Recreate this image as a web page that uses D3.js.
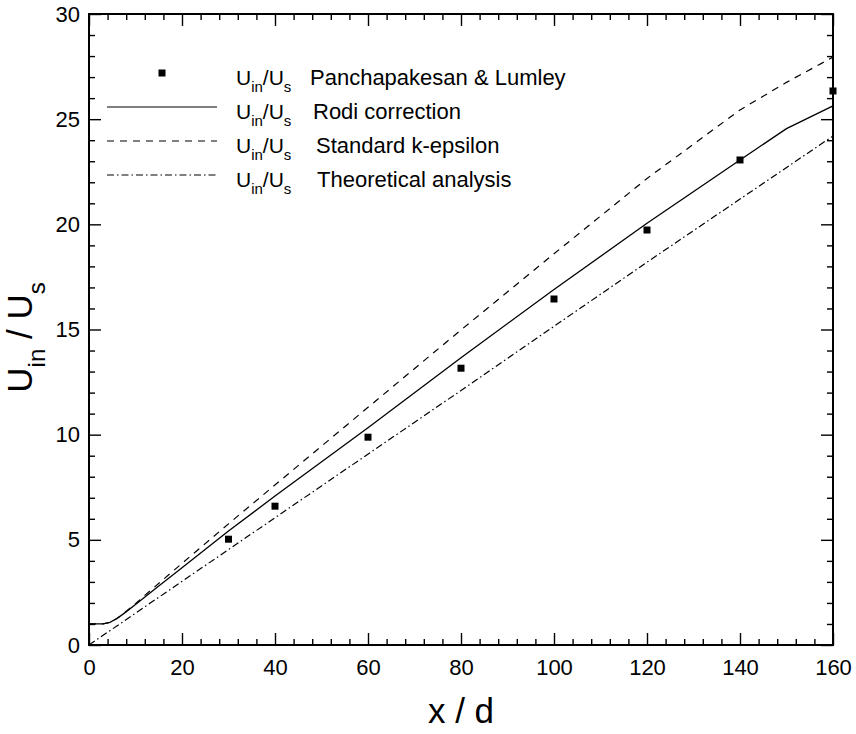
<!DOCTYPE html>
<html>
<head>
<meta charset="utf-8">
<script src="https://cdn.jsdelivr.net/npm/d3@7/dist/d3.min.js"></script>
<style>
  html, body { margin: 0; padding: 0; background: #fff; }
  svg { display: block; font-family: "Liberation Sans", Arial, Helvetica, sans-serif; }
</style>
</head>
<body>
<svg id="chart" width="856" height="734"></svg>
<script>
// ---- data ----
const xMajorTicks = [0, 20, 40, 60, 80, 100, 120, 140, 160];
const yMajorTicks = [0, 5, 10, 15, 20, 25, 30];

const expX = [30, 40, 60, 80, 100, 120, 140, 160];
const expY = [5.03, 6.6, 9.88, 13.16, 16.45, 19.73, 23.06, 26.34];

const rodiX = [0, 3, 4.5, 6, 7.4, 10, 15, 20, 30, 40, 60, 80, 100, 120, 140, 150, 160];
const rodiY = [1.0, 1.0, 1.08, 1.26, 1.48, 1.93, 2.8, 3.67, 5.42, 7.08, 10.33, 13.66, 16.9, 20.05, 23.06, 24.55, 25.63];

const kepsX = [0, 3, 4.5, 6, 7.4, 10, 12, 20, 30, 41.3, 60, 80, 100, 120, 140, 150, 160];
const kepsY = [1.0, 1.0, 1.08, 1.26, 1.49, 1.96, 2.36, 3.88, 5.76, 7.85, 11.3, 14.98, 18.6, 22.18, 25.44, 26.75, 27.95];

const theoX = [0, 40, 80, 120, 160];
const theoY = [0, 6.05, 12.1, 18.2, 24.2];

const legendLabels = ["Panchapakesan & Lumley", "Rodi correction", "Standard k-epsilon", "Theoretical analysis"];

// ---- layout ----
const svg = d3.select("#chart");
const x = d3.scaleLinear().domain([0, 160]).range([89, 833]);
const y = d3.scaleLinear().domain([0, 30]).range([645, 14]);

const xMinor = d3.range(0, 161, 4).filter(v => v % 20 !== 0);
const yMinor = d3.range(0, 31, 1).filter(v => v % 5 !== 0);

function styleAxis(g) {
  g.select(".domain").remove();
  g.selectAll(".tick line").attr("stroke", "#000").attr("stroke-width", 1.4);
  g.selectAll(".tick text").attr("fill", "#000").attr("font-size", 22)
    .attr("font-family", '"Liberation Sans", Arial, sans-serif');
}

// bottom
svg.append("g").attr("transform", `translate(0,${y(0)})`)
  .call(d3.axisBottom(x).tickValues(xMajorTicks).tickSizeInner(-12).tickSizeOuter(0).tickPadding(14).tickFormat(d3.format("d")))
  .call(styleAxis);
svg.append("g").attr("transform", `translate(0,${y(0)})`)
  .call(d3.axisBottom(x).tickValues(xMinor).tickSizeInner(-6).tickSizeOuter(0).tickFormat(""))
  .call(styleAxis);
// top
svg.append("g").attr("transform", `translate(0,${y(30)})`)
  .call(d3.axisTop(x).tickValues(xMajorTicks).tickSizeInner(-12).tickSizeOuter(0).tickFormat(""))
  .call(styleAxis);
svg.append("g").attr("transform", `translate(0,${y(30)})`)
  .call(d3.axisTop(x).tickValues(xMinor).tickSizeInner(-6).tickSizeOuter(0).tickFormat(""))
  .call(styleAxis);
// left
svg.append("g").attr("transform", `translate(${x(0)},0)`)
  .call(d3.axisLeft(y).tickValues(yMajorTicks).tickSizeInner(-12).tickSizeOuter(0).tickPadding(9).tickFormat(d3.format("d")))
  .call(styleAxis);
svg.append("g").attr("transform", `translate(${x(0)},0)`)
  .call(d3.axisLeft(y).tickValues(yMinor).tickSizeInner(-6).tickSizeOuter(0).tickFormat(""))
  .call(styleAxis);
// right
svg.append("g").attr("transform", `translate(${x(160)},0)`)
  .call(d3.axisRight(y).tickValues(yMajorTicks).tickSizeInner(-12).tickSizeOuter(0).tickFormat(""))
  .call(styleAxis);
svg.append("g").attr("transform", `translate(${x(160)},0)`)
  .call(d3.axisRight(y).tickValues(yMinor).tickSizeInner(-6).tickSizeOuter(0).tickFormat(""))
  .call(styleAxis);

// frame
svg.append("rect")
  .attr("x", x(0)).attr("y", y(30))
  .attr("width", x(160) - x(0)).attr("height", y(0) - y(30))
  .attr("fill", "none").attr("stroke", "#000").attr("stroke-width", 2);

// ---- curves ----
const line = d3.line().x(d => x(d[0])).y(d => y(d[1])).curve(d3.curveLinear);
const zip = (a, b) => a.map((v, i) => [v, b[i]]);

svg.append("path").datum(zip(theoX, theoY)).attr("d", line)
  .attr("fill", "none").attr("stroke", "#000").attr("stroke-width", 1.2)
  .attr("stroke-dasharray", "7,3,1.5,3");
svg.append("path").datum(zip(kepsX, kepsY)).attr("d", line)
  .attr("fill", "none").attr("stroke", "#000").attr("stroke-width", 1.2)
  .attr("stroke-dasharray", "7,6");
svg.append("path").datum(zip(rodiX, rodiY)).attr("d", line)
  .attr("fill", "none").attr("stroke", "#000").attr("stroke-width", 1.3);

// experimental points
const ms = 7;
svg.append("g").selectAll("rect").data(zip(expX, expY)).join("rect")
  .attr("x", d => x(d[0]) - ms / 2).attr("y", d => y(d[1]) - ms / 2)
  .attr("width", ms).attr("height", ms).attr("fill", "#000");

// ---- legend ----
const legY = [73, 107, 141, 175];
const legTextX2 = [310, 313, 316, 317];
const lg = svg.append("g");
lg.append("rect").attr("x", 162 - 3.5).attr("y", legY[0] - 3.5).attr("width", 7).attr("height", 7).attr("fill", "#000");
const legDash = [null, null, "7,6", "7,3,1.5,3"];
[1, 2, 3].forEach(i => {
  lg.append("line").attr("x1", 107).attr("x2", 217).attr("y1", legY[i]).attr("y2", legY[i])
    .attr("stroke", "#000").attr("stroke-width", 1.2)
    .attr("stroke-dasharray", legDash[i]);
});
legendLabels.forEach((lab, i) => {
  const base = legY[i] + 12;
  const t = lg.append("text").attr("x", 236).attr("y", base).attr("font-size", 21).attr("fill", "#000");
  t.append("tspan").text("U");
  t.append("tspan").attr("dy", 7).attr("font-size", 15).text("in");
  t.append("tspan").attr("dy", -7).text("/U");
  t.append("tspan").attr("dy", 7).attr("font-size", 15).text("s");
  lg.append("text").attr("x", legTextX2[i]).attr("y", base).attr("font-size", 22).attr("fill", "#000").text(lab);
});

// ---- axis titles ----
svg.append("text").attr("x", (x(0) + x(160)) / 2).attr("y", 723)
  .attr("text-anchor", "middle").attr("font-size", 35).attr("fill", "#000").text("x / d");

const yt = svg.append("text")
  .attr("transform", `translate(32,${(y(0) + y(30)) / 2 + 8}) rotate(-90)`)
  .attr("text-anchor", "middle").attr("font-size", 35).attr("fill", "#000");
yt.append("tspan").text("U");
yt.append("tspan").attr("dy", 13).attr("font-size", 24).text("in");
yt.append("tspan").attr("dy", -13).text(" / U");
yt.append("tspan").attr("dy", 13).attr("font-size", 24).text("s");
</script>
</body>
</html>
